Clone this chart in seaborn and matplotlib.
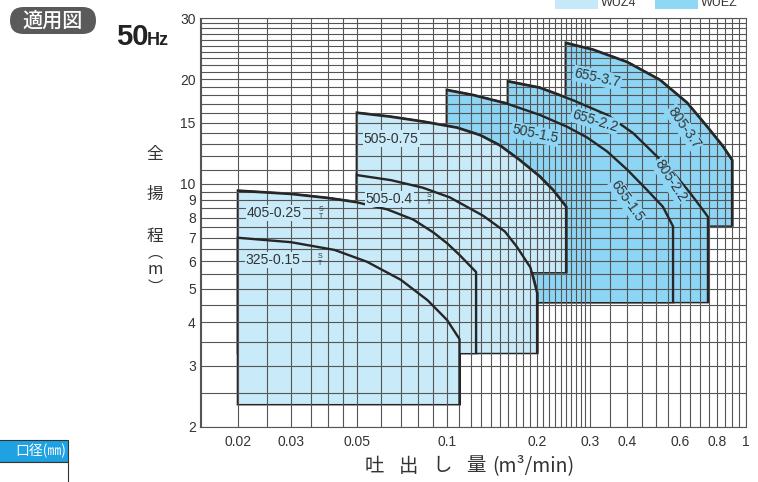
import matplotlib
matplotlib.use("Agg")
import matplotlib.pyplot as plt
import seaborn as sns
import numpy as np
from matplotlib.patches import FancyBboxPatch, Rectangle
from matplotlib.ticker import FixedLocator, NullFormatter

# ---------------- data ----------------
# WUZ4 group (light blue)
q_325 = [0.020, 0.030, 0.042, 0.054, 0.070, 0.086, 0.100, 0.110]
h_325 = [7.0, 6.8, 6.46, 5.97, 5.30, 4.63, 4.06, 3.58]
b_325 = 2.33

q_405 = [0.020, 0.030, 0.040, 0.050, 0.063, 0.077, 0.090, 0.100, 0.110, 0.125]
h_405 = [9.55, 9.35, 9.1, 8.85, 8.45, 7.9, 7.25, 6.75, 6.25, 5.58]
b_405 = 3.27

q_505a = [0.050, 0.065, 0.083, 0.102, 0.132, 0.156, 0.171, 0.190, 0.200]
h_505a = [10.6, 10.25, 9.75, 9.15, 8.1, 7.3, 6.6, 5.75, 4.86]
b_505a = 3.27

q_505b = [0.050, 0.0645, 0.083, 0.108, 0.129, 0.150, 0.175, 0.204, 0.226, 0.250]
h_505b = [16.0, 15.6, 15.1, 14.5, 13.8, 12.9, 11.7, 10.5, 9.6, 8.6]
b_505b = 5.58

# WUEZ group (darker blue)
q_15 = [0.100, 0.122, 0.159, 0.204, 0.252, 0.294, 0.343, 0.400, 0.467, 0.527, 0.570]
h_15 = [18.6, 18.0, 17.0, 15.8, 14.6, 13.6, 12.4, 11.0, 9.6, 8.6, 7.55]
b_15 = 4.58

q_22 = [0.160, 0.204, 0.264, 0.343, 0.419, 0.489, 0.570, 0.650, 0.718, 0.746]
h_22 = [19.7, 18.9, 17.4, 15.8, 14.0, 12.3, 10.8, 9.42, 8.41, 8.04]
b_22 = 4.58

q_37 = [0.250, 0.308, 0.400, 0.515, 0.635, 0.741, 0.838, 0.898]
h_37 = [25.4, 24.3, 22.4, 19.9, 17.1, 14.6, 12.8, 11.7]
b_37 = 7.6

x_ticks = [0.02, 0.03, 0.05, 0.1, 0.2, 0.3, 0.4, 0.6, 0.8, 1]
x_ticklabels = ["0.02", "0.03", "0.05", "0.1", "0.2", "0.3", "0.4", "0.6", "0.8", "1"]
y_ticks = [2, 3, 4, 5, 6, 7, 8, 9, 10, 15, 20, 30]
y_ticklabels = ["2", "3", "4", "5", "6", "7", "8", "9", "10", "15", "20", "30"]

labels_light = [("505-0.75", 0.065, 13.5, False),
                ("505-0.4", 0.064, 9.06, True),
                ("405-0.25", 0.0264, 8.25, True),
                ("325-0.15", 0.0262, 6.04, True)]
labels_dark = [("505-1.5", 0.197, 13.9, -12),
               ("655-2.2", 0.312, 15.2, -17),
               ("655-3.7", 0.318, 20.2, -12),
               ("805-3.7", 0.62, 14.5, -55),
               ("805-2.2", 0.558, 10.2, -57),
               ("655-1.5", 0.40, 8.93, -55)]

# ---------------- style ----------------
LIGHT = "#c9eaf8"
DARK = "#8dd5f4"
LINE = "#262626"
GRID = "#555555"
TXT = "#333333"
W, H = 758, 482

sns.set_style("white")
plt.rcParams["font.family"] = ["Liberation Sans", "Noto Sans CJK JP", "DejaVu Sans"]
CJK = ["Noto Sans CJK JP", "DejaVu Sans"]

fig = plt.figure(figsize=(W / 100, H / 100), dpi=100)
ax = fig.add_axes([200 / W, 1 - 427 / H, 546 / W, 409 / H])
ax.set_xscale("log")
ax.set_yscale("log")
ax.set_xlim(0.0149, 1.0)
ax.set_ylim(2, 30)

groups = [
    (DARK, [(q_15, h_15, b_15), (q_22, h_22, b_22), (q_37, h_37, b_37)], 0.6),
    (LIGHT, [(q_325, h_325, b_325), (q_405, h_405, b_405),
             (q_505a, h_505a, b_505a), (q_505b, h_505b, b_505b)], 0.8),
]
for color, models, z in groups:
    for q, h, b in models:
        xs = [q[0]] + list(q) + [q[-1]]
        ys = [b] + list(h) + [b]
        ax.fill(xs, ys, facecolor="none", edgecolor=LINE, lw=2.2,
                joinstyle="miter", zorder=z)
    for q, h, b in models:
        xs = [q[0]] + list(q) + [q[-1]]
        ys = [b] + list(h) + [b]
        ax.fill(xs, ys, facecolor=color, edgecolor="none", zorder=z + 0.1)

# curves with their end drops
for color, models, z in groups:
    for q, h, b in models:
        cx = list(q) + [q[-1]]
        cy = list(h) + [b]
        sns.lineplot(x=cx, y=cy, sort=False, estimator=None, color=LINE,
                     lw=1.7, ax=ax, zorder=3)

# grid
minor_x = sorted(set(
    [round(v, 4) for v in np.arange(0.015, 0.05, 0.005)] +
    [round(v, 4) for v in np.arange(0.05, 0.1, 0.01)] +
    [round(v, 4) for v in np.arange(0.1, 0.3, 0.01)] +
    [round(v, 4) for v in np.arange(0.3, 1.0, 0.05)]))
minor_y = sorted(set(
    [round(v, 2) for v in np.arange(2.0, 10.0, 0.5)] +
    [round(v, 2) for v in np.arange(10.0, 30.0, 1.0)]))
ax.xaxis.set_major_locator(FixedLocator(x_ticks))
ax.set_xticklabels(x_ticklabels)
ax.xaxis.set_minor_locator(FixedLocator(minor_x))
ax.xaxis.set_minor_formatter(NullFormatter())
ax.yaxis.set_major_locator(FixedLocator(y_ticks))
ax.set_yticklabels(y_ticklabels)
ax.yaxis.set_minor_locator(FixedLocator(minor_y))
ax.yaxis.set_minor_formatter(NullFormatter())
ax.set_axisbelow("line")
ax.grid(which="both", color=GRID, lw=0.8)
ax.tick_params(which="both", length=0)
ax.tick_params(axis="x", pad=6, labelsize=10, labelcolor=TXT)
ax.tick_params(axis="y", pad=3, labelsize=10, labelcolor=TXT)
for s in ax.spines.values():
    s.set_color(GRID)
    s.set_linewidth(0.8)
ax.set_xlabel("")
ax.set_ylabel("")

# curve labels
for t, x, y, st in labels_light:
    ax.text(x, y, t, ha="center", va="center", fontsize=10, color=TXT,
            zorder=4, bbox=dict(boxstyle="square,pad=0.08", fc=LIGHT, ec="none"))
    if st:
        ax.annotate("S\nT", xy=(x, y), xytext=(34 if t != "505-0.4" else 29, 0),
                    textcoords="offset points", ha="center", va="center",
                    fontsize=5, linespacing=0.9, color=TXT, zorder=4)
for t, x, y, r in labels_dark:
    ax.text(x, y, t, ha="center", va="center", fontsize=10, color=TXT,
            rotation=r, rotation_mode="anchor", zorder=4,
            bbox=dict(boxstyle="square,pad=0.08", fc=DARK, ec="none"))

def fx(px):
    return px / W

def fy(py):
    return 1 - py / H

# y label (vertical)
for ch, py in [("全", 154), ("揚", 194), ("程", 236)]:
    fig.text(fx(155), fy(py), ch, ha="center", va="center", fontsize=12,
             color=TXT, family=CJK)
fig.text(fx(155), fy(253), "︵", ha="center", va="center", fontsize=11, color=TXT, family=CJK)
fig.text(fx(155), fy(269), "m", ha="center", va="center", fontsize=12, color=TXT, family=CJK)
fig.text(fx(155), fy(287), "︶", ha="center", va="center", fontsize=11, color=TXT, family=CJK)

# x label
for ch, px in [("吐", 374), ("出", 409), ("し", 442), ("量", 476)]:
    fig.text(fx(px), fy(466), ch, ha="center", va="center", fontsize=14,
             color=TXT, family=CJK)
fig.text(fx(492), fy(466), "(m³/min)", ha="left", va="center", fontsize=14,
         color=TXT, family=CJK)

# top-left badge
badge = FancyBboxPatch((0.10, (H - 34) / 100), 0.86, 0.27,
                       boxstyle="round,pad=0,rounding_size=0.135",
                       transform=fig.dpi_scale_trans, fc="#5a5a5a", ec="none")
fig.add_artist(badge)
fig.text(fx(53), fy(21), "適用図", ha="center", va="center", fontsize=14.5,
         color="white", family=CJK, weight="medium")
fig.text(fx(116), fy(45), "50", ha="left", va="baseline", fontsize=21,
         weight="bold", color="#222222")
fig.text(fx(147), fy(45), "Hz", ha="left", va="baseline", fontsize=13,
         weight="bold", color="#222222")

# top legend (cropped)
fig.add_artist(Rectangle((fx(555), fy(9)), 43 / W, 20 / H, transform=fig.transFigure,
                         fc="#c6e9f9", ec="none"))
fig.text(fx(601), fy(3), "WUZ4", ha="left", va="center", fontsize=9, color=TXT)
fig.add_artist(Rectangle((fx(655), fy(9)), 43 / W, 20 / H, transform=fig.transFigure,
                         fc="#8ed7f5", ec="none"))
fig.text(fx(701), fy(3), "WUEZ", ha="left", va="center", fontsize=9, color=TXT)

# bottom-left table fragment
fig.add_artist(Rectangle((fx(-2), fy(462)), 70 / W, 22 / H, transform=fig.transFigure,
                         fc="#1ea2e2", ec="#333333", lw=0.8))
fig.add_artist(Rectangle((fx(-2), fy(484)), 70 / W, 22 / H, transform=fig.transFigure,
                         fc="white", ec="#333333", lw=0.8))
fig.text(fx(66), fy(451), "口径(㎜)", ha="right", va="center", fontsize=10,
         color="white", family=CJK)

fig.savefig("out.png", dpi=100)
